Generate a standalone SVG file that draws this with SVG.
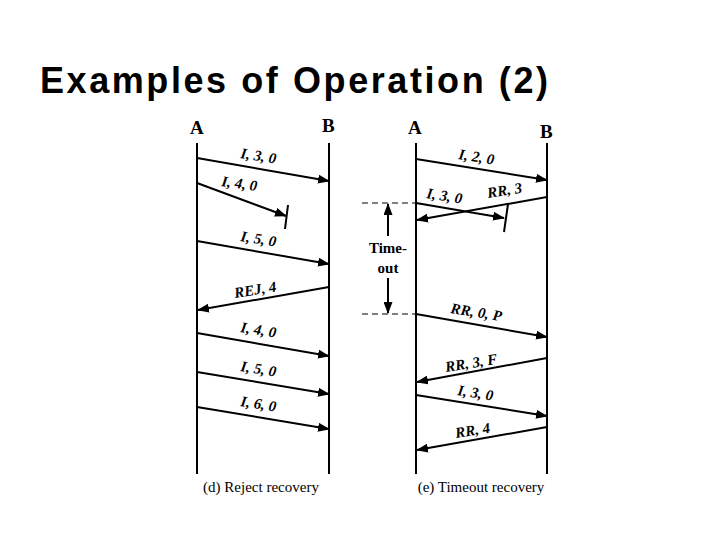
<svg xmlns="http://www.w3.org/2000/svg" width="720" height="540" viewBox="0 0 720 540">
<style>
.ln{stroke:#000;stroke-width:2;fill:none}
.m{stroke:#000;stroke-width:2;fill:none;marker-end:url(#ah)}
.d{stroke:#000;stroke-width:1.2;stroke-dasharray:6,4;fill:none}
.lb{font-family:"Liberation Serif",serif;font-weight:bold;font-style:italic;font-size:15px}
.hd{font-family:"Liberation Serif",serif;font-weight:bold;font-size:19px}
.cp{font-family:"Liberation Serif",serif;font-size:15px}
</style>
<defs><marker id="ah" markerWidth="12" markerHeight="9" refX="11" refY="4.5" orient="auto" markerUnits="userSpaceOnUse"><path d="M0,0 L12,4.5 L0,9 Z"/></marker></defs>
<rect width="720" height="540" fill="#fff"/>
<text x="40" y="93" font-family="Liberation Sans,sans-serif" font-weight="bold" font-size="36" textLength="508" lengthAdjust="spacing">Examples of Operation (2)</text>
<g id="lifelines">
<line class="ln" x1="197" y1="143" x2="197" y2="474"/><line class="ln" x1="329" y1="143" x2="329" y2="474"/>
<line class="ln" x1="416" y1="143" x2="416" y2="474"/><line class="ln" x1="547" y1="143" x2="547" y2="474"/>
<text class="hd" x="190" y="134">A</text><text class="hd" x="322" y="132">B</text>
<text class="hd" x="408" y="134">A</text><text class="hd" x="540" y="138">B</text>
</g>
<g id="connectors">
<line class="m" x1="197" y1="158" x2="329" y2="181"/>
<line class="m" x1="197" y1="183" x2="286" y2="216"/><line class="ln" x1="288" y1="205" x2="285" y2="229"/>
<line class="m" x1="197" y1="241" x2="329" y2="264"/>
<line class="m" x1="329" y1="287" x2="198" y2="310"/>
<line class="m" x1="197" y1="333" x2="329" y2="356"/>
<line class="m" x1="197" y1="372" x2="329" y2="394"/>
<line class="m" x1="197" y1="407" x2="329" y2="429"/>
<line class="m" x1="416" y1="159" x2="547" y2="180"/>
<line class="m" x1="547" y1="197" x2="417" y2="220"/>
<line class="m" x1="416" y1="203" x2="504" y2="218"/><line class="ln" x1="508" y1="204" x2="504" y2="232"/>
<line class="m" x1="416" y1="314" x2="547" y2="337"/>
<line class="m" x1="547" y1="358" x2="417" y2="382"/>
<line class="m" x1="416" y1="395" x2="547" y2="416"/>
<line class="m" x1="547" y1="427" x2="417" y2="450"/>
<line class="d" x1="362" y1="203" x2="416" y2="203"/><line class="d" x1="362" y1="314" x2="416" y2="314"/>
<line class="m" x1="388" y1="236" x2="388" y2="204" stroke-width="1.5"/>
<line class="m" x1="388" y1="278" x2="388" y2="313" stroke-width="1.5"/>
</g>
<g id="labels">
<text class="lb" transform="translate(240,158) rotate(9)">I, 3, 0</text>
<text class="lb" transform="translate(221,186) rotate(8)">I, 4, 0</text>
<text class="lb" transform="translate(240,241) rotate(9)">I, 5, 0</text>
<text class="lb" transform="translate(235,298) rotate(-9)">REJ, 4</text>
<text class="lb" transform="translate(240,332) rotate(9)">I, 4, 0</text>
<text class="lb" transform="translate(240,371) rotate(9)">I, 5, 0</text>
<text class="lb" transform="translate(240,406) rotate(9)">I, 6, 0</text>
<text class="lb" transform="translate(458,159) rotate(9)">I, 2, 0</text>
<text class="lb" transform="translate(426,198) rotate(9)">I, 3, 0</text>
<text class="lb" transform="translate(488,198) rotate(-9)">RR, 3</text>
<text class="lb" transform="translate(450,313) rotate(9)">RR, 0, P</text>
<text class="lb" transform="translate(446,372) rotate(-9)">RR, 3, F</text>
<text class="lb" transform="translate(457,395) rotate(9)">I, 3, 0</text>
<text class="lb" transform="translate(456,438) rotate(-9)">RR, 4</text>
<text class="cp" x="388" y="253" text-anchor="middle" font-weight="bold">Time-</text>
<text class="cp" x="388" y="273" text-anchor="middle" font-weight="bold">out</text>
<text class="cp" x="261" y="492" text-anchor="middle">(d) Reject recovery</text>
<text class="cp" x="481" y="492" text-anchor="middle">(e) Timeout recovery</text>
</g>
</svg>
